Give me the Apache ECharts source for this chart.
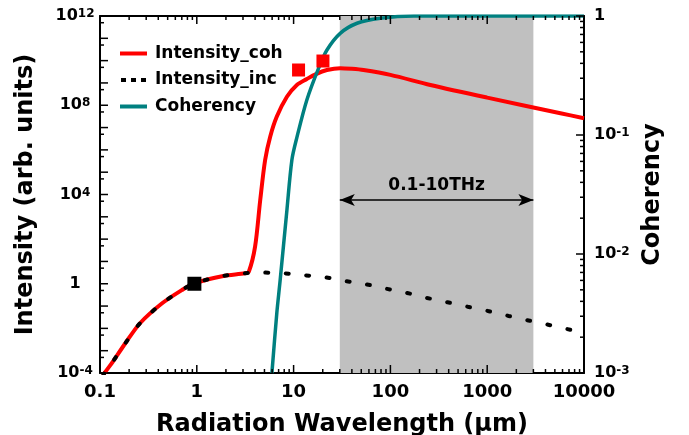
<!DOCTYPE html>
<html><head><meta charset="utf-8">
<script src="https://cdn.jsdelivr.net/npm/echarts@6/dist/echarts.min.js"></script>
<style>html,body{margin:0;padding:0;background:#fff}#c{width:689px;height:435px}</style>
</head><body><div id="c"></div>
<script>
// ---- data ----
const wavelengthCoh = [0.107,0.111,0.132,0.182,0.259,0.435,0.700,0.944,1.88,3.16,3.45,4.0,4.52,5.08,5.73,6.71,8.53,10.8,13.7,17,22.1,30.3,40,52.8,100,259,1000,5710,10000];
const intensityCoh  = [7e-5,9.8e-5,2.7e-4,2.1e-3,1.7e-2,0.13,0.52,1.05,2.24,2.95,3.5,46,5.6e3,3.5e5,3.9e6,3.1e7,2.4e8,8.1e8,1.5e9,2.5e9,3.8e9,4.6e9,4.3e9,3.8e9,2.3e9,8.1e8,2.2e8,4.4e7,2.6e7];
const wavelengthInc = [0.107,0.111,0.132,0.182,0.259,0.435,0.700,0.944,1.88,3.16,4.9,7.87,12.9,21.2,34.2,56,90.8,148,240,389,631,1040,1670,2750,4510,7380,10000];
const intensityInc  = [7e-5,9.8e-5,2.7e-4,2.1e-3,1.7e-2,0.13,0.52,1.05,2.24,2.95,3.16,2.95,2.4,1.95,1.32,0.95,0.60,0.39,0.23,0.148,0.093,0.059,0.036,0.022,0.0138,0.0085,0.0063];
const wavelengthCoher = [5.97,6.71,7.26,8.53,9.6,10.8,13.7,18.1,22.1,30.3,45.2,78.7,174,10000];
const coherency       = [1e-3,3.2e-3,6.0e-3,0.0234,0.0617,0.095,0.197,0.363,0.518,0.715,0.869,0.957,1.0,1.0];
const redSquareX = [11.25, 20.1];
const redSquareY = [3.8e9, 9.6e9];
const blackSquareX = [0.944];
const blackSquareY = [1.0];
const bandRange = [30, 3000];
const arrowLevel = 5.6e3;
const bandLabel = '0.1-10THz';
const seriesNames = ['Intensity_coh','Intensity_inc','Coherency'];
const xMajor = [0.1,1,10,100,1000,10000];
const xTickLabels = ['0.1','1','10','100','1000','10000'];
const yLeftMajor = [1e-4,1e-3,1e-2,1e-1,1,1e1,1e2,1e3,1e4,1e5,1e6,1e7,1e8,1e9,1e10,1e11,1e12];
const yLeftLabelValues = [1e-4,1,1e4,1e8,1e12];
const yRightMajor = [1e-3,1e-2,1e-1,1];
const minorFactors = [2,3,4,5,6,7,8,9];

// ---- build ----
const zip = (a,b)=>a.map((v,i)=>[v,b[i]]);
const xMinor = [];
xMajor.slice(0,-1).forEach(d=>minorFactors.forEach(f=>xMinor.push(d*f)));
const yRightMinor = [];
yRightMajor.slice(0,-1).forEach(d=>minorFactors.forEach(f=>yRightMinor.push(d*f)));
const yLeftMinor = yLeftMajor.slice(0,-1).map(d=>d*5);

const F = 'DejaVu Sans';
const black = '#000';
const X_RANGE = [0.1, 10000], YL_RANGE = [1e-4, 1e12], YR_RANGE = [1e-3, 1];
const rich = {
  b:{fontFamily:F,fontSize:16,fontWeight:'bold',color:black,verticalAlign:'bottom',lineHeight:16},
  s:{fontFamily:F,fontSize:12,fontWeight:'bold',color:black,verticalAlign:'top',lineHeight:12,padding:[0,0,6,0]}
};
function powLabel(v){
  const e = Math.round(Math.log10(v));
  if (e === 0) return '{b|1}';
  return '{b|10}{s|' + e + '}';
}
function xLabel(v){
  const e = Math.round(Math.log10(v));
  const i = xMajor.findIndex(m=>Math.round(Math.log10(m))===e);
  return i>=0 ? xTickLabels[i] : '';
}
const line2 = {show:true, lineStyle:{color:black, width:2}};
const nameStyle = {fontFamily:F, fontSize:24, fontWeight:'bold', color:black};

// tick marks as thin rectangle symbols placed on the axes through the log scales
function ticks(points, yIdx, size, offset){
  return {
    type:'scatter', xAxisIndex:0, yAxisIndex:yIdx, z:6, silent:true, clip:false,
    data:points, symbol:'rect', symbolSize:size, symbolOffset:offset,
    itemStyle:{color:black, opacity:1}, emphasis:{disabled:true}
  };
}
const tickSeries = [
  ticks(xMajor.map(v=>[v, YL_RANGE[0]]), 0, [1.5, 8], [0, -4]),
  ticks(xMinor.map(v=>[v, YL_RANGE[0]]), 0, [1.5, 4], [0, -2]),
  ticks(xMajor.map(v=>[v, YL_RANGE[1]]), 0, [1.5, 8], [0, 4]),
  ticks(xMinor.map(v=>[v, YL_RANGE[1]]), 0, [1.5, 4], [0, 2]),
  ticks(yLeftMajor.map(v=>[X_RANGE[0], v]), 0, [8, 1.5], [4, 0]),
  ticks(yLeftMinor.map(v=>[X_RANGE[0], v]), 0, [4, 1.5], [2, 0]),
  ticks(yRightMajor.map(v=>[X_RANGE[1], v]), 1, [8, 1.5], [-4, 0]),
  ticks(yRightMinor.map(v=>[X_RANGE[1], v]), 1, [4, 1.5], [-2, 0])
];

const chart = echarts.init(document.getElementById('c'), null, {renderer:'canvas'});
chart.setOption({
  animation:false,
  backgroundColor:'#fff',
  grid:{left:100, right:105, top:16, bottom:62, containLabel:false, outerBoundsMode:'none'},
  legend:{
    left:120, top:45, orient:'vertical', padding:0, itemGap:9.5, itemWidth:27, itemHeight:4,
    textStyle:{fontFamily:F, fontSize:17, fontWeight:'bold', color:black, padding:[0,0,0,3]},
    data:[
      {name:seriesNames[0], icon:'rect'},
      {name:seriesNames[1], icon:'path://M0,0h5v4h-5zM10,0h5v4h-5zM20,0h5v4h-5z'},
      {name:seriesNames[2], icon:'rect'}
    ]
  },
  xAxis:[
    {type:'log', min:X_RANGE[0], max:X_RANGE[1], position:'bottom', axisLine:line2, axisTick:{show:false},
     axisLabel:{show:true, customValues:xMajor, formatter:xLabel, fontFamily:F, fontSize:18, fontWeight:'bold', color:black, margin:10},
     splitLine:{show:false}, name:'Radiation Wavelength (µm)', nameLocation:'middle', nameGap:40, nameTextStyle:nameStyle},
    {type:'log', min:X_RANGE[0], max:X_RANGE[1], position:'top', axisLine:line2, axisTick:{show:false},
     axisLabel:{show:false}, splitLine:{show:false}}
  ],
  yAxis:[
    {type:'log', min:YL_RANGE[0], max:YL_RANGE[1], position:'left', axisLine:line2, axisTick:{show:false},
     axisLabel:{show:true, customValues:yLeftLabelValues, formatter:powLabel, rich:rich, align:'center', margin:25},
     splitLine:{show:false}, name:'Intensity (arb. units)', nameLocation:'middle', nameRotate:90, nameGap:62, nameTextStyle:nameStyle},
    {type:'log', min:YR_RANGE[0], max:YR_RANGE[1], position:'right', axisLine:line2, axisTick:{show:false},
     axisLabel:{show:true, customValues:yRightMajor, formatter:powLabel, rich:rich, align:'left', margin:10},
     splitLine:{show:false}, name:'Coherency', nameLocation:'middle', nameRotate:90, nameGap:52, nameTextStyle:nameStyle}
  ],
  series:[
    {
      type:'line', name:seriesNames[0], xAxisIndex:0, yAxisIndex:0, z:3, data:zip(wavelengthCoh, intensityCoh),
      symbol:'none', smooth:0.3, color:'#ff0000', lineStyle:{color:'#ff0000', width:4},
      markArea:{silent:true, itemStyle:{color:'#c0c0c0', opacity:1}, data:[[{xAxis:bandRange[0]},{xAxis:bandRange[1]}]]},
      markLine:{silent:true, symbol:['arrow','arrow'], symbolSize:[9,15],
        lineStyle:{color:black, width:1.5, type:'solid'},
        label:{show:true, position:'middle', formatter:bandLabel, fontFamily:F, fontSize:17, fontWeight:'bold', color:black, distance:6},
        data:[[{coord:[bandRange[0], arrowLevel]},{coord:[bandRange[1], arrowLevel]}]]}
    },
    {
      type:'line', name:seriesNames[1], xAxisIndex:0, yAxisIndex:0, z:4, data:zip(wavelengthInc, intensityInc),
      symbol:'none', smooth:0.3, color:black, lineStyle:{color:black, width:4, type:[3,17.5], cap:'round'}
    },
    {
      type:'line', name:seriesNames[2], xAxisIndex:0, yAxisIndex:1, z:3, data:zip(wavelengthCoher, coherency),
      symbol:'none', smooth:0.3, color:'#008080', lineStyle:{color:'#008080', width:3.5}
    },
    {
      type:'scatter', name:'redSquares', xAxisIndex:0, yAxisIndex:0, z:5, data:zip(redSquareX, redSquareY),
      symbol:'rect', symbolSize:13, itemStyle:{color:'#ff0000', opacity:1}
    },
    {
      type:'scatter', name:'blackSquare', xAxisIndex:0, yAxisIndex:0, z:5, data:zip(blackSquareX, blackSquareY),
      symbol:'rect', symbolSize:14, itemStyle:{color:black, opacity:1}
    }
  ].concat(tickSeries)
});
</script>
</body></html>
